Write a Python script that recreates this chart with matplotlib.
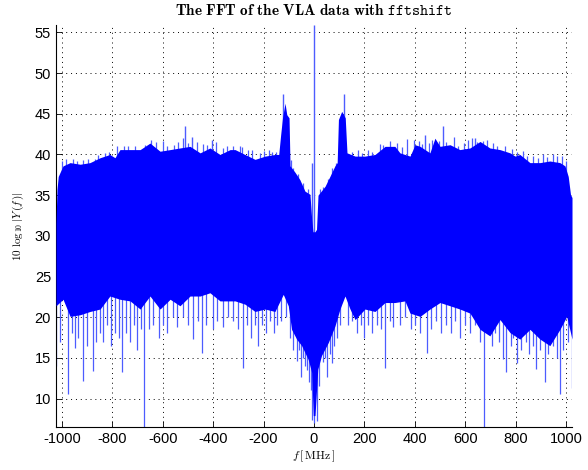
import numpy as np
import matplotlib
matplotlib.use("Agg")
import matplotlib.pyplot as plt

plt.rcParams['font.family'] = ['Liberation Sans', 'DejaVu Sans']
plt.rcParams['mathtext.fontset'] = 'cm'
plt.rcParams['axes.unicode_minus'] = False

# Upper edge of the noise floor, 10 log10 |Y(f)| in dB vs frequency in MHz
upper_f = [-1024, -1020, -1015, -1005, -996, -968, -928, -889, -849, -810, -790, -770,
           -730, -690, -651, -611, -571, -532, -492, -452, -413, -373, -333, -313,
           -274, -234, -194, -155, -140, -132, -125, -115, -108, -99, -95, -75, -56,
           -36, -16, -9, -4, 4, 10, 16, 44, 63, 83, 92, 97, 110, 124, 131, 163, 202,
           242, 282, 321, 341, 381, 401, 421, 460, 480, 500, 540, 579, 619, 659, 698,
           738, 778, 798, 817, 857, 897, 936, 976, 996, 1009, 1018, 1024]
upper_db = [31.5, 35.7, 37.3, 38.0, 38.6, 39.0, 38.8, 39.0, 39.6, 40.0, 39.6, 40.6,
            40.6, 40.6, 41.4, 40.4, 40.6, 40.8, 41.0, 40.2, 40.8, 40.0, 40.6, 40.6,
            40.0, 39.4, 39.8, 40.0, 40.0, 42.5, 44.5, 46.3, 44.9, 44.5, 38.6, 37.8, 36.9,
            35.5, 35.1, 32.0, 30.5, 30.5, 30.8, 35.0, 36.1, 37.3, 38.6, 39.0, 44.3, 45.3,
            44.5, 40.2, 39.8, 39.8, 40.0, 41.0, 41.0, 40.2, 39.8, 41.2, 41.0, 40.2, 42.0,
            41.0, 41.2, 40.6, 40.8, 41.6, 40.8, 40.6, 40.2, 39.8, 40.0, 39.0, 39.0, 39.2,
            39.0, 38.6, 37.3, 35.1, 34.7]

# Lower edge of the solid band
lower_f = [-1024, -996, -968, -928, -889, -849, -810, -770, -730, -690, -651, -611,
           -571, -532, -492, -452, -413, -373, -333, -313, -274, -234, -194, -155,
           -122, -102, -89, -69, -49, -23, -9, -3, 4, 15, 30, 57, 83, 103, 123, 143,
           163, 202, 242, 282, 321, 361, 381, 421, 460, 500, 540, 579, 619, 659, 698,
           738, 778, 817, 857, 897, 936, 976, 1003, 1024]
lower_db = [21.4, 22.2, 20.1, 20.3, 20.7, 21.0, 22.6, 22.2, 22.0, 21.0, 22.6, 21.0,
            22.2, 21.4, 22.6, 22.6, 23.0, 22.0, 22.0, 22.0, 21.6, 20.7, 21.0, 20.7,
            22.8, 21.4, 18.5, 17.3, 16.5, 14.8, 13.2, 7.9, 7.9, 13.6, 15.3, 16.9, 18.9,
            21.0, 22.6, 21.0, 19.7, 21.0, 20.7, 21.8, 21.8, 22.0, 20.5, 20.1, 21.0, 21.8,
            21.4, 21.0, 20.5, 18.5, 17.7, 19.7, 18.1, 17.3, 18.5, 17.3, 16.5, 18.5, 20.1,
            17.3]

# Narrow dips below the band (frequency, minimum dB)
dip_f = [-1022, -1010, -975, -960, -948, -935, -915, -900, -878, -865, -850, -837,
         -820, -806, -790, -775, -763, -745, -730, -715, -701, -688, -673, -655, -640,
         -615, -600, -585, -560, -545, -520, -500, -479, -460, -446, -430, -400, -385,
         -360, -340, -320, -300, -281, -265, -250, -235, -221, -205, -190, -175, -160,
         -145, -130, -110, -95, -82, -69, -60, -52, -44, -36, -28, -18, -12, -7, 0, 11,
         18, 24, 35, 45, 53, 63, 70, 78, 90, 105, 135, 150, 170, 185, 200, 215, 230,
         250, 265, 282, 300, 315, 340, 360, 385, 400, 420, 447, 465, 485, 505, 525, 545,
         560, 580, 600, 620, 640, 660, 676, 690, 705, 720, 735, 751, 764, 780, 790, 804,
         820, 840, 855, 870, 880, 895, 916, 930, 950, 965, 976, 990, 1010, 1022]
dip_db = [14.0, 17.0, 10.5, 18.0, 16.2, 17.5, 12.1, 16.5, 13.4, 17.0, 18.0, 17.0,
          19.0, 16.5, 18.0, 17.5, 13.2, 18.0, 16.9, 19.0, 16.0, 18.5, 6.5, 18.5, 19.0,
          17.5, 19.0, 18.0, 20.0, 18.8, 20.0, 19.0, 17.3, 19.5, 15.6, 19.0, 18.5, 19.5,
          18.8, 20.0, 19.5, 18.5, 13.8, 19.0, 17.5, 19.0, 16.5, 19.0, 18.0, 19.5, 18.0,
          19.0, 19.5, 20.0, 17.5, 16.0, 14.6, 16.0, 12.6, 15.0, 14.0, 13.5, 12.0, 11.0,
          7.4, 7.0, 7.2, 11.5, 15.3, 14.5, 15.0, 12.6, 15.5, 14.4, 16.5, 17.5, 19.0,
          19.0, 19.5, 18.0, 19.0, 17.5, 19.0, 18.0, 19.0, 18.5, 13.8, 19.5, 18.8, 19.0,
          20.0, 18.5, 19.0, 18.0, 15.6, 18.5, 19.5, 18.0, 19.0, 18.0, 19.5, 17.5, 19.0,
          18.0, 19.0, 17.0, 6.5, 18.0, 16.5, 18.0, 17.0, 14.8, 13.2, 16.5, 17.5, 14.4,
          16.0, 17.0, 15.5, 16.5, 13.6, 16.0, 12.0, 15.5, 16.5, 15.0, 10.5, 16.0, 17.0,
          11.3]

# Narrow peaks above the band (frequency, peak dB)
peak_f = [-512, -486, -405, -122, -6, 0, 120, 440, 513, 640]
peak_db = [43.5, 42.1, 41.8, 47.4, 38.9, 55.9, 47.4, 42.4, 43.5, 42.0]

# Smaller bumps along the top of the band
bump_f = [-1000, -985, -955, -940, -918, -895, -870, -858, -830, -815, -780, -755,
          -740, -710, -670, -645, -628, -600, -585, -555, -540, -520, -500, -465,
          -440, -425, -390, -360, -345, -322, -295, -285, -260, -245, -215, -200,
          -180, -165, -150, -90, -82, -65, -45, -25, 25, 35, 55, 72, 88, 150, 175,
          190, 215, 230, 260, 275, 300, 330, 350, 370, 395, 415, 430, 455, 470, 495,
          525, 555, 570, 595, 610, 628, 645, 670, 685, 710, 725, 760, 785, 805, 830,
          845, 870, 890, 910, 925, 950, 965, 985, 1000]
bump_db = [39.2, 39.4, 39.5, 39.2, 39.3, 39.5, 39.4, 39.9, 40.2, 40.3, 41.0, 41.0,
           41.1, 41.0, 41.2, 41.8, 41.5, 41.7, 41.0, 41.2, 41.5, 42.0, 41.4, 41.5,
           41.3, 41.2, 41.5, 40.8, 41.1, 41.0, 41.0, 40.9, 40.6, 40.5, 40.2, 40.4,
           40.5, 40.3, 40.3, 39.3, 38.3, 37.6, 36.5, 35.8, 35.8, 36.0, 37.0, 38.4, 39.0,
           40.3, 40.5, 40.2, 40.6, 40.3, 41.3, 41.2, 41.6, 41.4, 40.9, 41.9, 41.8, 41.7,
           41.3, 41.4, 41.8, 41.6, 41.5, 42.2, 41.0, 41.4, 41.8, 42.0, 41.5, 41.6, 41.8,
           41.4, 41.1, 41.0, 40.7, 40.3, 40.4, 39.8, 39.8, 39.6, 40.0, 39.7, 40.0, 39.8,
           39.8, 39.2]

fig = plt.figure(figsize=(5.88, 4.70), dpi=100)
ax = fig.add_axes([0.0952, 0.0915, 0.8776, 0.855])

blue = (0, 0, 1)
spike_blue = (0.3, 0.36, 1.0)
f_band = np.union1d(upper_f, lower_f)
# solid band drawn over the spikes so only their tips show
ax.fill_between(f_band, np.interp(f_band, lower_f, lower_db),
                np.interp(f_band, upper_f, upper_db), color=blue, lw=0, zorder=3)
ax.vlines(dip_f, dip_db, 25, color=spike_blue, lw=0.9, zorder=2)
ax.vlines(bump_f, 30, bump_db, color=spike_blue, lw=0.9, zorder=2)
ax.vlines(peak_f, 30, peak_db, color=spike_blue, lw=1.0, zorder=2)

ax.set_xlim(-1024, 1024)
ax.set_ylim(6.5, 55.9)
ax.set_xticks(np.arange(-1000, 1001, 200))
ax.set_yticks(np.arange(10, 56, 5))
ax.tick_params(direction='in', length=4, width=0.6, labelsize=10.5, color='black')
ax.grid(True, color='black', linestyle=(0, (1, 4)), linewidth=0.7)
ax.set_axisbelow(True)
for side in ('top', 'right'):
    ax.spines[side].set_visible(False)
for side in ('left', 'bottom'):
    ax.spines[side].set_linewidth(0.8)

ax.set_title(r'$\mathbf{The\ FFT\ of\ the\ VLA\ data\ with}\ \mathtt{fftshift}$',
             fontsize=11, pad=7)
ax.set_xlabel(r'$f\,[\,\mathrm{MHz}\,]$', fontsize=8.5, labelpad=2)
ax.set_ylabel(r'$10\ \log_{10}|Y\,(f\,)|$', fontsize=8, labelpad=6)

fig.savefig('out.png', dpi=100)
